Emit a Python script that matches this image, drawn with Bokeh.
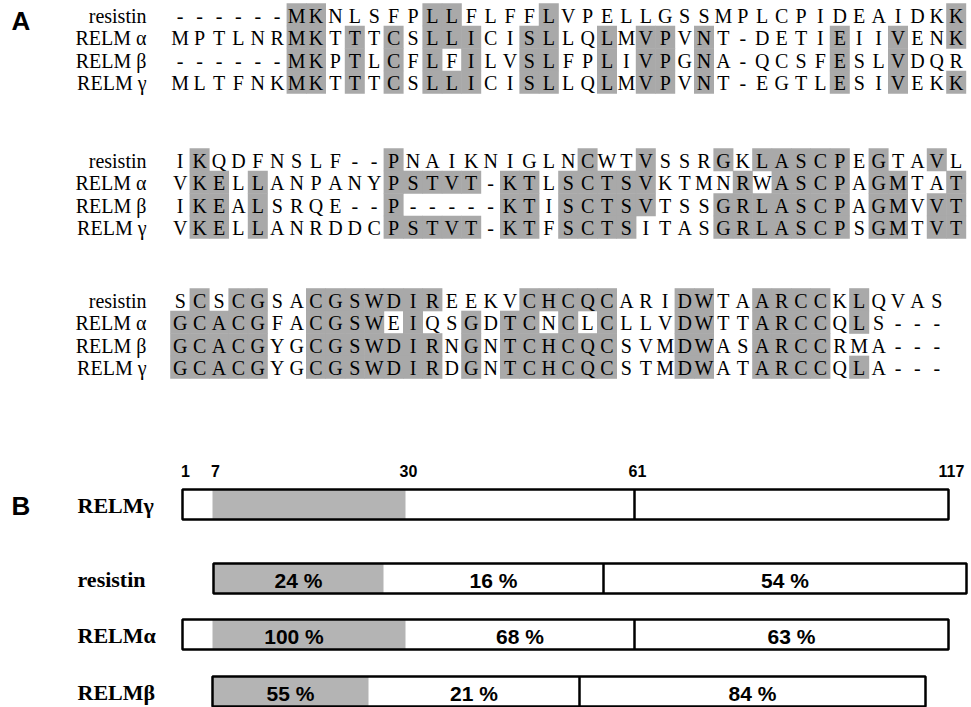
from bokeh.plotting import figure
from bokeh.models import Range1d
from bokeh.core.properties import value
from bokeh.embed import file_html
from bokeh.resources import INLINE

# ---------------- Panel A: sequence alignment ----------------
seq_names = ["resistin", "RELM α", "RELM β", "RELM γ"]

block1 = [
    "------MKNLSFPLLFLFFLVPELLGSSMPLCPIDEAIDKK",
    "MPTLNRMKTTTCSLLICISLLQLMVPVNT-DETIEIIVENK",
    "------MKPTLCFLFILVSLFPLIVPGNA-QCSFESLVDQR",
    "MLTFNKMKTTTCSLLICISLLQLMVPVNT-EGTLESIVEKK",
]
block2 = [
    "IKQDFNSLF--PNAIKNIGLNCWTVSSRGKLASCPEGTAVL",
    "VKELLANPANYPSTVT-KTLSCTSVKTMNRWASCPAGMTAT",
    "IKEALSRQE--P-----KTISCTSVTSSGRLASCPAGMVVT",
    "VKELLANRDDCPSTVT-KTFSCTSITASGRLASCPSGMTVT",
]
block3 = [
    "SCSCGSACGSWDIREEKVCHCQCARIDWTAARCCKLQVAS",
    "GCACGFACGSWEIQSGDTCNCLCLLVDWTTARCCQLS---",
    "GCACGYGCGSWDIRNGNTCHCQCSVMDWASARCCRMA---",
    "GCACGYGCGSWDIRDGNTCHCQCSTMDWATARCCQLA---",
]

# shaded (conserved) alignment columns, 1-based, per sequence
shade1 = [
    [7, 8, 14, 15, 20, 41],
    [7, 8, 10, 12, 14, 15, 16, 19, 20, 23, 25, 26, 28, 35, 38, 41],
    [7, 8, 10, 12, 14, 16, 19, 20, 23, 25, 26, 28, 35, 38],
    [7, 8, 10, 12, 14, 15, 16, 19, 20, 23, 25, 26, 28, 35, 38, 41],
]
shade2 = [
    [2, 12, 22, 25, 29, 31, 32, 33, 34, 35, 37, 40],
    [2, 3, 5, 12, 13, 14, 15, 16, 18, 19, 21, 22, 23, 24, 25, 30, 32, 33, 34, 35, 37, 38, 41],
    [2, 3, 5, 12, 18, 19, 21, 22, 23, 24, 25, 29, 30, 31, 32, 33, 34, 35, 37, 38, 40, 41],
    [2, 3, 5, 12, 13, 14, 15, 16, 18, 19, 21, 22, 23, 24, 29, 30, 31, 32, 33, 34, 35, 37, 38, 40, 41],
]
shade3 = [
    [2, 4, 5, 8, 9, 10, 11, 12, 13, 14, 19, 20, 21, 22, 23, 27, 28, 31, 32, 33, 34, 36],
    [1, 2, 3, 4, 5, 8, 9, 10, 11, 13, 16, 18, 19, 21, 23, 27, 28, 31, 32, 33, 34, 36],
    [1, 2, 3, 4, 5, 8, 9, 10, 11, 12, 13, 14, 16, 18, 19, 20, 21, 22, 23, 27, 28, 31, 32, 33, 34],
    [1, 2, 3, 4, 5, 8, 9, 10, 11, 12, 13, 14, 16, 18, 19, 20, 21, 22, 23, 27, 28, 31, 32, 33, 34, 36],
]

blocks = [block1, block2, block3]
shades = [shade1, shade2, shade3]

# ---------------- Panel B: domain schematic ----------------
dom_names = ["RELMγ", "resistin", "RELMα", "RELMβ"]
# schematic segment lengths: offset, N-term, signal peptide, middle, C-term
dom_offset = [0, 31, 0, 30]
dom_nterm = [30, 0, 30, 0]
dom_signal = [193, 170, 193, 156]
dom_middle = [229, 220, 229, 211]
dom_cterm = [314, 363, 314, 346]
dom_identity = [
    None,
    ["24 %", "16 %", "54 %"],
    ["100 %", "68 %", "63 %"],
    ["55 %", "21 %", "84 %"],
]
residue_marks = ["1", "7", "30", "61", "117"]

# ---------------- layout ----------------
W, H = 971, 707
COL0, PITCH, ROW_H = 170.0, 19.4, 22.5
BLOCK_TOP = [3, 148, 288]
SHADE_A = "#a9a9a9"
SHADE_B = "#b4b4b4"
SERIF = value("Liberation Serif")
SANS = value("Liberation Sans")

p = figure(width=W, height=H, output_backend="svg", toolbar_location=None,
           x_range=Range1d(0, W), y_range=Range1d(H, 0), min_border=0)
p.axis.visible = False
p.grid.visible = False
p.outline_line_color = None
p.background_fill_color = "white"

# alignment shading and residues
for b, (blk, shd) in enumerate(zip(blocks, shades)):
    top = BLOCK_TOP[b]
    sx, sy = [], []
    cx, cy, ch = [], [], []
    for r, seq in enumerate(blk):
        yc = top + (r + 0.5) * ROW_H
        for col in shd[r]:
            sx.append(COL0 + (col - 0.5) * PITCH)
            sy.append(yc)
        for i, c in enumerate(seq):
            cx.append(COL0 + (i + 0.5) * PITCH)
            cy.append(yc + 1)
            ch.append(c)
    p.rect(x=sx, y=sy, width=PITCH + 0.6, height=ROW_H + 0.6,
           fill_color=SHADE_A, line_color=None)
    p.text(x=cx, y=cy, text=ch, text_align="center", text_baseline="middle",
           text_font=SERIF, text_font_size=value("20px"), text_color="black")
    p.text(x=[146] * 4, y=[top + (r + 0.5) * ROW_H + 1 for r in range(4)],
           text=seq_names, text_align="right", text_baseline="middle",
           text_font=SERIF, text_font_size=value("20px"), text_color="black")

# panel letters
p.text(x=[11, 11], y=[20, 505], text=["A", "B"], text_align="left",
       text_baseline="middle", text_font=SANS, text_font_style="bold",
       text_font_size=value("26px"), text_color="black")

# domain bars
ORIGIN = 182
BAR_Y = [504, 578, 634, 691]
BAR_H = 30
for k in range(4):
    y = BAR_Y[k]
    x0 = ORIGIN + dom_offset[k]
    s0 = x0 + dom_nterm[k]
    s1 = s0 + dom_signal[k]
    m1 = s1 + dom_middle[k]
    x1 = m1 + dom_cterm[k]
    p.quad(left=[x0], right=[x1], top=[y - BAR_H / 2], bottom=[y + BAR_H / 2],
           fill_color="white", line_color=None)
    p.quad(left=[s0], right=[s1], top=[y - BAR_H / 2], bottom=[y + BAR_H / 2],
           fill_color=SHADE_B, line_color=None)
    p.segment(x0=[m1], y0=[y - BAR_H / 2], x1=[m1], y1=[y + BAR_H / 2],
              line_color="black", line_width=2.5)
    p.quad(left=[x0], right=[x1], top=[y - BAR_H / 2], bottom=[y + BAR_H / 2],
           fill_color=None, line_color="black", line_width=2.5)
    p.text(x=[77], y=[y + 1], text=[dom_names[k]], text_align="left",
           text_baseline="middle", text_font=SERIF, text_font_style="bold",
           text_font_size=value("22px"), text_color="black")
    if dom_identity[k]:
        centers = [(x0 + s1) / 2, (s1 + m1) / 2, (m1 + x1) / 2]
        p.text(x=centers, y=[y + 2] * 3, text=dom_identity[k], text_align="center",
               text_baseline="middle", text_font=SANS, text_font_style="bold",
               text_font_size=value("21px"), text_color="black")
    if k == 0:
        edges = [x0, s0, s1, m1, x1]
        p.text(x=[e + 3 for e in edges], y=[470] * 5, text=residue_marks,
               text_align="center", text_baseline="middle", text_font=SANS,
               text_font_style="bold", text_font_size=value("16px"),
               text_color="black")

open("out.html", "w").write(file_html(p, INLINE))
